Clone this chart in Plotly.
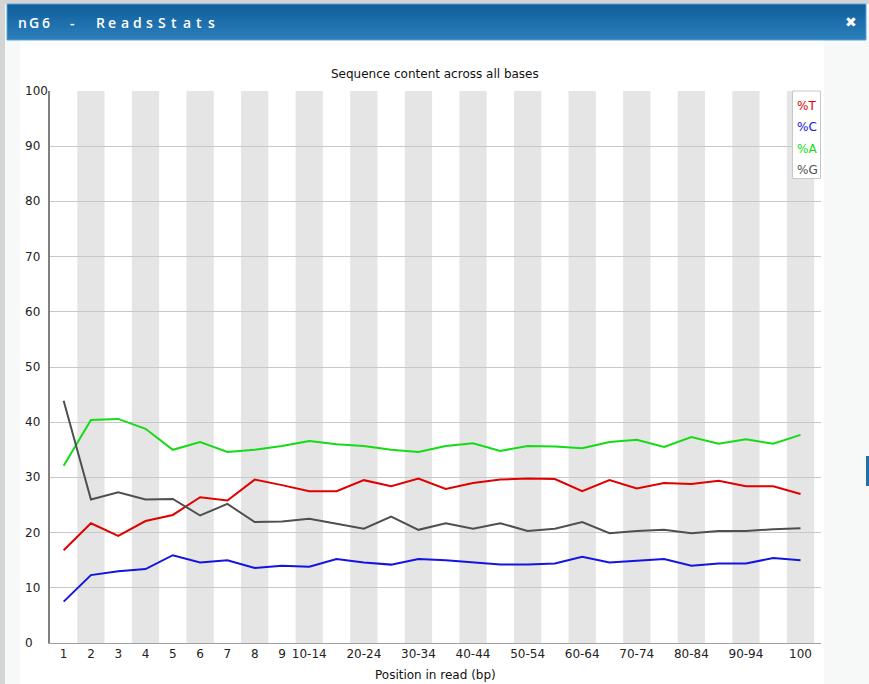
import plotly.graph_objects as go

W, H = 869, 684

# Read positions (bp) along the sequence
positions = ["1", "2", "3", "4", "5", "6", "7", "8", "9",
             "10-14", "15-19", "20-24", "25-29", "30-34", "35-39",
             "40-44", "45-49", "50-54", "55-59", "60-64", "65-69",
             "70-74", "75-79", "80-84", "85-89", "90-94", "95-99", "100"]

# Base composition (%) at each position
pct_T = [16.8, 21.7, 19.4, 22.1, 23.2, 26.4, 25.8, 29.6, 28.6, 27.5,
         27.5, 29.5, 28.4, 29.8, 27.9, 29.0, 29.6, 29.8, 29.7, 27.5,
         29.5, 28.0, 29.0, 28.8, 29.4, 28.4, 28.4, 27.0]
pct_C = [7.5, 12.3, 13.0, 13.4, 15.9, 14.6, 15.0, 13.6, 14.0, 13.8,
         15.2, 14.6, 14.2, 15.2, 15.0, 14.6, 14.2, 14.2, 14.4, 15.6,
         14.6, 14.9, 15.2, 14.0, 14.4, 14.4, 15.4, 15.0]
pct_A = [32.1, 40.4, 40.6, 38.8, 35.0, 36.4, 34.6, 35.0, 35.7, 36.6,
         36.0, 35.7, 35.0, 34.6, 35.7, 36.2, 34.8, 35.7, 35.6, 35.3,
         36.4, 36.8, 35.5, 37.3, 36.1, 36.9, 36.1, 37.7]
pct_G = [43.9, 26.0, 27.3, 26.0, 26.1, 23.1, 25.2, 21.9, 22.0, 22.5,
         21.6, 20.7, 22.9, 20.5, 21.7, 20.7, 21.7, 20.3, 20.7, 21.9,
         19.9, 20.3, 20.5, 19.9, 20.3, 20.3, 20.6, 20.8]

series = [("%T", pct_T, "#e00000"),
          ("%C", pct_C, "#1414e0"),
          ("%A", pct_A, "#14dc14"),
          ("%G", pct_G, "#4f4f4f")]

# Labels that get drawn on the x axis (the others are skipped)
shown_labels = ["1", "2", "3", "4", "5", "6", "7", "8", "9", "10-14",
                "20-24", "30-34", "40-44", "50-54", "60-64", "70-74",
                "80-84", "90-94", "100"]
y_ticks = [0, 10, 20, 30, 40, 50, 60, 70, 80, 90, 100]

FONT = "DejaVu Sans"


def px(x):
    return x / W


def py(y):
    return 1 - y / H


# plot area in pixels
PL, PR, PT, PB = 50, 821, 91, 643

fig = go.Figure()
for name, vals, color in series:
    fig.add_trace(go.Scatter(x=positions, y=vals, mode="lines", name=name,
                             line=dict(color=color, width=2),
                             showlegend=False, hoverinfo="x+y"))

shapes = []
annotations = []

# dialog frame
shapes.append(dict(type="rect", xref="paper", yref="paper",
                   x0=px(5), x1=px(869), y0=py(684), y1=py(4),
                   fillcolor="#f7f9f9", line=dict(width=0), layer="below"))
shapes.append(dict(type="rect", xref="paper", yref="paper",
                   x0=px(20), x1=px(824), y0=py(684), y1=py(40),
                   fillcolor="#ffffff", line=dict(width=0), layer="below"))

# title bar with vertical gradient
top_rgb = (14, 94, 154)
bot_rgb = (44, 127, 188)
y_start, y_end = 4, 40
n_rows = y_end - y_start
for i in range(n_rows):
    t = i / (n_rows - 1)
    c = tuple(int(round(a + (b - a) * t)) for a, b in zip(top_rgb, bot_rgb))
    shapes.append(dict(type="rect", xref="paper", yref="paper",
                       x0=px(7), x1=px(866), y0=py(y_start + i + 1), y1=py(y_start + i),
                       fillcolor="rgb(%d,%d,%d)" % c, line=dict(width=0),
                       layer="above"))
shapes.append(dict(type="rect", xref="paper", yref="paper",
                   x0=px(7), x1=px(866), y0=py(40), y1=py(4),
                   fillcolor="rgba(0,0,0,0)",
                   line=dict(width=1, color="#5aa2dc"), layer="above"))

# window title, tracked out letter by letter
title_txt = "nG6 - ReadsStats"
title_x = [22, 34, 46, None, 72, None, 100]
for j in range(9):
    title_x.append(100 + 12.4 * (j + 1))
for ch, xc in zip(title_txt, title_x):
    if xc is None:
        continue
    annotations.append(dict(text=ch, xref="paper", yref="paper",
                            x=px(xc), y=py(22),
                            xanchor="center", yanchor="middle", showarrow=False,
                            font=dict(family="Open Sans", size=14, color="#ffffff",
                                      weight=600)))
annotations.append(dict(text="✖", xref="paper", yref="paper",
                        x=px(851), y=py(22), xanchor="center", yanchor="middle",
                        showarrow=False,
                        font=dict(family=FONT, size=14, color="#ffffff")))

# a sliver of the page behind the dialog
shapes.append(dict(type="rect", xref="paper", yref="paper",
                   x0=px(866), x1=px(869), y0=py(486), y1=py(456),
                   fillcolor="#1d70ad", line=dict(width=0), layer="above"))

# alternating column bands
for k in range(1, len(positions), 2):
    shapes.append(dict(type="rect", xref="x", yref="y",
                       x0=k - 0.5, x1=k + 0.5, y0=0, y1=100,
                       fillcolor="#e5e5e5", line=dict(width=0), layer="below"))

# chart title
annotations.append(dict(text="Sequence content across all bases", xref="paper",
                        yref="paper", x=px(435), y=py(74), xanchor="center",
                        yanchor="middle", showarrow=False,
                        font=dict(family=FONT, size=12, color="#111111")))
# x axis title
annotations.append(dict(text="Position in read (bp)", xref="paper",
                        yref="paper", x=px(435), y=py(675), xanchor="center",
                        yanchor="middle", showarrow=False,
                        font=dict(family=FONT, size=12, color="#111111")))
# y tick labels, left aligned
for v in y_ticks:
    annotations.append(dict(text=str(v), xref="paper", yref="y",
                            x=px(23), y=v, xanchor="left", yanchor="middle",
                            showarrow=False,
                            font=dict(family=FONT, size=12, color="#222222")))

# legend box
shapes.append(dict(type="rect", xref="paper", yref="paper",
                   x0=px(792.5), x1=px(820.5), y0=py(178.5), y1=py(91),
                   fillcolor="#ffffff", line=dict(width=1, color="#c8c8c8"),
                   layer="above"))
for i, (name, vals, color) in enumerate(series):
    annotations.append(dict(text=name, xref="paper", yref="paper",
                            x=px(795), y=py(106 + i * 21.3), xanchor="left",
                            yanchor="middle", showarrow=False,
                            font=dict(family=FONT, size=12, color=color)))

fig.update_layout(
    width=W, height=H,
    margin=dict(l=0, r=0, t=0, b=0),
    paper_bgcolor="#d4d4d4",
    plot_bgcolor="#ffffff",
    showlegend=False,
    shapes=shapes,
    annotations=annotations,
    xaxis=dict(domain=[px(PL), px(PR)], type="category",
               categoryorder="array", categoryarray=positions,
               range=[-0.5, len(positions) - 0.25],
               tickmode="array", tickvals=shown_labels, ticktext=shown_labels,
               tickfont=dict(family=FONT, size=12, color="#222222"),
               showgrid=False, zeroline=False, showline=True,
               linecolor="#a0a0a0", linewidth=1, ticks="", fixedrange=True),
    yaxis=dict(domain=[py(PB), py(PT)], range=[0, 100],
               tickmode="array", tickvals=y_ticks, showticklabels=False,
               showgrid=True, gridcolor="#c8c8c8", gridwidth=1,
               zeroline=False, showline=True, linecolor="#808080", linewidth=2,
               ticks="", fixedrange=True),
)

fig.write_html("out.html")
